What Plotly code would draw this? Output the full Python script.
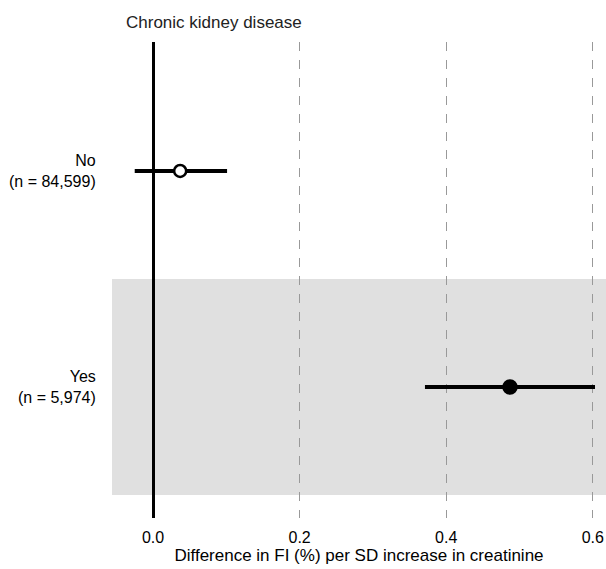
import plotly.graph_objects as go

groups = ["No", "Yes"]
counts = ["84,599", "5,974"]
estimates = [0.037, 0.487]
lower = [-0.025, 0.371]
upper = [0.101, 0.603]
filled = [False, True]
row_pos = [1, 2]
x_ticks = [0.0, 0.2, 0.4, 0.6]
tick_text = ["0.0", "0.2", "0.4", "0.6"]

FONT = "Liberation Sans, Arial, Helvetica, sans-serif"
FS = 16
FS_TITLE = 17

fig = go.Figure()

for g, est, lo, hi, f, y in zip(groups, estimates, lower, upper, filled, row_pos):
    fig.add_trace(go.Scatter(
        x=[lo, hi], y=[y, y], mode="lines",
        line=dict(color="black", width=4), showlegend=False, hoverinfo="skip"))
    fig.add_trace(go.Scatter(
        x=[est], y=[y], mode="markers",
        marker=dict(size=12 if not f else 13,
                    color="black" if f else "white",
                    line=dict(color="black", width=2.5)),
        showlegend=False))

# shaded band for second row
fig.add_shape(type="rect", xref="paper", x0=0, x1=1, yref="y",
              y0=row_pos[1] - 0.5, y1=row_pos[1] + 0.5,
              fillcolor="#e0e0e0", line=dict(width=0), layer="below")

for g, c, y in zip(groups, counts, row_pos):
    fig.add_annotation(xref="paper", x=0, yref="y", y=y, xanchor="right",
                       xshift=-14, yanchor="middle", align="right",
                       text=f"{g}<br>(n = {c})", showarrow=False,
                       font=dict(family=FONT, size=FS, color="black"))

fig.add_annotation(xref="paper", x=0.024, yref="paper", y=1, yshift=20,
                   xanchor="left", yanchor="middle", showarrow=False,
                   text="Chronic kidney disease",
                   font=dict(family=FONT, size=FS_TITLE, color="#222222"))

fig.update_layout(
    width=606, height=569,
    margin=dict(l=112, r=0, t=42, b=51),
    plot_bgcolor="white", paper_bgcolor="white",
    font=dict(family=FONT, size=FS, color="black"),
    xaxis=dict(range=[-0.056, 0.618], tickvals=x_ticks, ticktext=tick_text,
               showgrid=True, gridcolor="#999999", griddash="dash", gridwidth=1,
               zeroline=True, zerolinecolor="black", zerolinewidth=3,
               showline=False, ticks="", ticklen=0, ticklabelstandoff=8,
               title=dict(text="Difference in FI (%) per SD increase in creatinine",
                          font=dict(size=FS_TITLE), standoff=2),
               tickfont=dict(size=FS)),
    yaxis=dict(range=[2.606, 0.403], showticklabels=False, showgrid=False,
               zeroline=False, showline=False),
)

fig.write_html("out.html")
